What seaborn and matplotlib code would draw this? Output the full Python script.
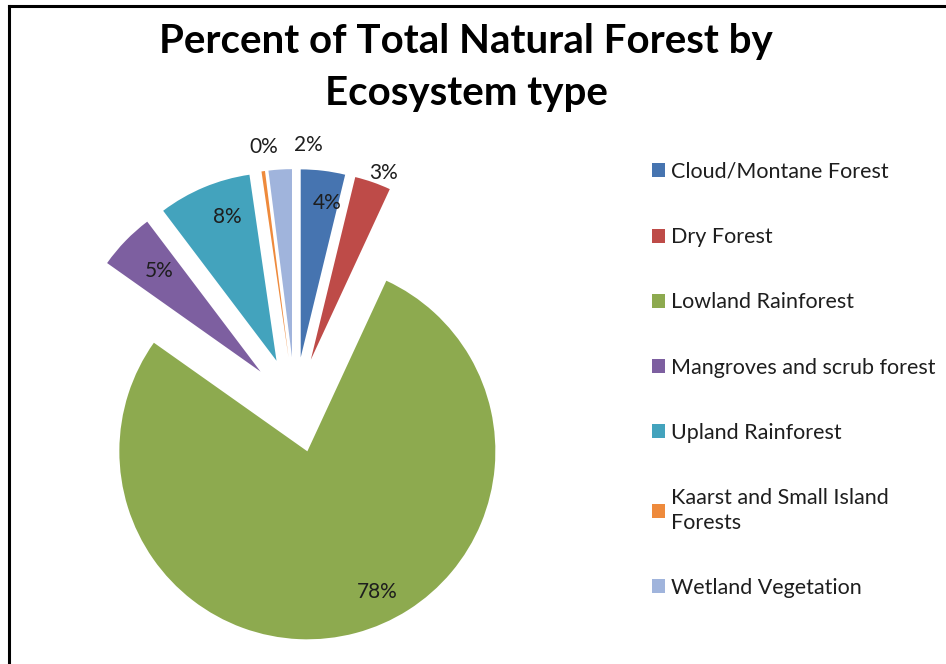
import numpy as np
import matplotlib
matplotlib.use("Agg")
import matplotlib.pyplot as plt
from matplotlib.lines import Line2D
import seaborn as sns

# Share of total natural forest by ecosystem type (%)
ecosystems = [
    "Cloud/Montane Forest",
    "Dry Forest",
    "Lowland Rainforest",
    "Mangroves and scrub forest",
    "Upland Rainforest",
    "Kaarst and Small Island\nForests",
    "Wetland Vegetation",
]
shares = [3.8, 3.1, 77.9, 4.9, 8.0, 0.3, 2.0]

colors = sns.color_palette([
    "#4674B0", "#BE4B48", "#8DAA4F", "#7D5FA0", "#43A3BD", "#EE8A3C", "#A0B4DC"
])

sns.set_theme(style="white")
plt.rcParams["font.family"] = ["Lato", "DejaVu Sans"]

W, H = 946, 664
fig = plt.figure(figsize=(W / 100, H / 100), dpi=100)
ax = fig.add_axes([0, 0, 1, 1])

# pie centre and radius in pixels
cx, cy, R = 295, 405, 188
explode_frac = 0.255

wedges, texts, autotexts = ax.pie(
    shares,
    colors=colors,
    startangle=90,
    counterclock=False,
    explode=[explode_frac] * len(shares),
    radius=1.0,
    autopct="%1.0f%%",
    wedgeprops=dict(linewidth=0),
    textprops=dict(fontsize=15, color="#1e1e1e"),
)

# per-label (distance from wedge tip in radii, clockwise angular nudge in degrees)
label_place = [(0.835, 2.7), (1.065, 2.0), (0.835, -11.4), (0.76, 0.9),
               (0.81, 3.7), (1.13, 1.0), (1.13, 7.9)]
for w, t, (dist, nudge) in zip(wedges, autotexts, label_place):
    mid = np.deg2rad((w.theta1 + w.theta2) / 2)
    tip = np.array([np.cos(mid), np.sin(mid)]) * explode_frac
    ang = mid - np.deg2rad(nudge)
    t.set_position(tip + dist * np.array([np.cos(ang), np.sin(ang)]))
    t.set_ha("center")
    t.set_va("center")

ax.set_xlim(-cx / R, (W - cx) / R)
ax.set_ylim(-(H - cy) / R, cy / R)
ax.set_aspect("auto")
ax.axis("off")

fig.text(466 / W, 1 - 67 / H, "Percent of Total Natural Forest by\nEcosystem type",
         ha="center", va="center", fontsize=29, fontweight="bold",
         color="#000000", linespacing=1.5)

leg = ax.legend(
    wedges, ecosystems,
    loc="upper left",
    bbox_to_anchor=(652 / W, 1 - 162 / H),
    bbox_transform=fig.transFigure,
    frameon=False,
    fontsize=15.5,
    handlelength=0.62,
    handleheight=0.62,
    handletextpad=0.25,
    labelspacing=2.1,
    borderpad=0,
    borderaxespad=0,
)
for txt in leg.get_texts():
    txt.set_color("#1e1e1e")
    txt.set_linespacing(1.3)

# outer frame lines (top and left)
fig.add_artist(Line2D([8.5 / W, 1], [1 - 6 / H, 1 - 6 / H], transform=fig.transFigure,
                      color="black", linewidth=2.2, solid_capstyle="projecting"))
fig.add_artist(Line2D([9 / W, 9 / W], [0, 1 - 6 / H], transform=fig.transFigure,
                      color="black", linewidth=2.2, solid_capstyle="projecting"))

fig.savefig("out.png", dpi=100, facecolor="white")
